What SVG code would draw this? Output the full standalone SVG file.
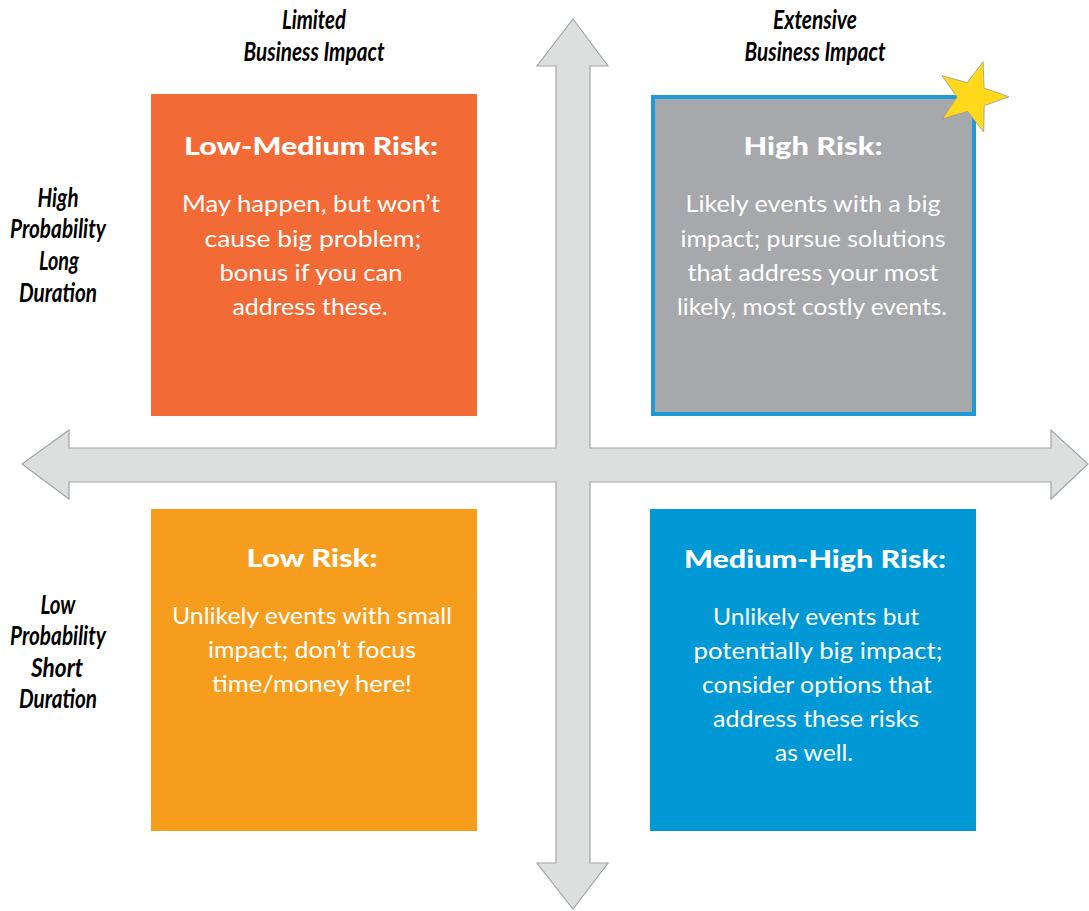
<svg xmlns="http://www.w3.org/2000/svg" width="1089" height="911" viewBox="0 0 1089 911">
<style>
.ax{font-family:Lato,"Liberation Sans",sans-serif;font-style:italic;font-weight:700;font-size:27px;fill:#000;text-anchor:middle}
.ttl{font-family:Lato,"Liberation Sans",sans-serif;font-weight:900;font-size:25px;fill:#fff;text-anchor:middle}
.bd{font-family:Lato,"Liberation Sans",sans-serif;font-size:23px;fill:#fff;text-anchor:middle}
</style>
<rect width="1089" height="911" fill="#fff"/>
<g id="connectors">
<polygon id="axes" points="573,19 608,66 590,66 590,448 1051,448 1051,430 1088,464 1051,499 1051,482 590,482 590,863 608,863 573,909 537,863 556,863 556,482 69,482 69,499 22,464 69,430 69,448 556,448 556,66 537,66" fill="#DDDFDE" stroke="#A3A5A5" stroke-width="1.2" stroke-linejoin="miter"/>
</g>
<g id="label-limited">
<text class="ax" x="314" y="29" textLength="64" lengthAdjust="spacingAndGlyphs">Limited</text>
<text class="ax" x="314" y="61" textLength="141" lengthAdjust="spacingAndGlyphs">Business Impact</text>
</g>
<g id="label-extensive">
<text class="ax" x="815" y="29" textLength="84" lengthAdjust="spacingAndGlyphs">Extensive</text>
<text class="ax" x="815" y="61" textLength="141" lengthAdjust="spacingAndGlyphs">Business Impact</text>
</g>
<g id="label-high">
<text class="ax" x="58" y="207" textLength="41" lengthAdjust="spacingAndGlyphs">High</text>
<text class="ax" x="58" y="238" textLength="96" lengthAdjust="spacingAndGlyphs">Probability</text>
<text class="ax" x="59" y="270" textLength="40" lengthAdjust="spacingAndGlyphs">Long</text>
<text class="ax" x="58" y="302" textLength="78" lengthAdjust="spacingAndGlyphs">Duration</text>
</g>
<g id="label-low">
<text class="ax" x="58" y="614" textLength="35" lengthAdjust="spacingAndGlyphs">Low</text>
<text class="ax" x="58" y="645" textLength="96" lengthAdjust="spacingAndGlyphs">Probability</text>
<text class="ax" x="57" y="677" textLength="52" lengthAdjust="spacingAndGlyphs">Short</text>
<text class="ax" x="58" y="708" textLength="78" lengthAdjust="spacingAndGlyphs">Duration</text>
</g>
<g id="low-medium">
<rect x="151" y="94" width="326" height="322" fill="#F26B36"/>
<text class="ttl" x="311" y="155" textLength="254" lengthAdjust="spacingAndGlyphs">Low-Medium Risk:</text>
<text class="bd" x="311" y="212" textLength="258" lengthAdjust="spacingAndGlyphs">May happen, but won’t</text>
<text class="bd" x="313" y="247" textLength="217" lengthAdjust="spacingAndGlyphs">cause big problem;</text>
<text class="bd" x="311" y="281" textLength="183" lengthAdjust="spacingAndGlyphs">bonus if you can</text>
<text class="bd" x="310" y="315" textLength="155" lengthAdjust="spacingAndGlyphs">address these.</text>
</g>
<g id="high">
<rect x="653" y="97" width="321" height="317" fill="#A6A8AB" stroke="#1E9AD6" stroke-width="4"/>
<text class="ttl" x="813" y="155" textLength="139" lengthAdjust="spacingAndGlyphs">High Risk:</text>
<text class="bd" x="813" y="212" textLength="255" lengthAdjust="spacingAndGlyphs">Likely events with a big</text>
<text class="bd" x="813" y="247" textLength="265" lengthAdjust="spacingAndGlyphs">impact; pursue solutions</text>
<text class="bd" x="813" y="281" textLength="251" lengthAdjust="spacingAndGlyphs">that address your most</text>
<text class="bd" x="812" y="315" textLength="270" lengthAdjust="spacingAndGlyphs">likely, most costly events.</text>
<polygon id="star" points="983.1,61.7 984.1,88.1 1009,96.7 984.2,105.7 983.7,132.1 967.5,111.3 942.3,119 957,97.1 941.9,75.5 967.2,82.8" fill="#FFD91A" stroke="#9A9A8A" stroke-width="0.8"/>
</g>
<g id="low">
<rect x="151" y="509" width="326" height="322" fill="#F79D1E"/>
<text class="ttl" x="312" y="567" textLength="131" lengthAdjust="spacingAndGlyphs">Low Risk:</text>
<text class="bd" x="312" y="624" textLength="280" lengthAdjust="spacingAndGlyphs">Unlikely events with small</text>
<text class="bd" x="312" y="658" textLength="208" lengthAdjust="spacingAndGlyphs">impact; don’t focus</text>
<text class="bd" x="312" y="692" textLength="200" lengthAdjust="spacingAndGlyphs">time/money here!</text>
</g>
<g id="medium-high">
<rect x="650" y="509" width="326" height="322" fill="#0099D6"/>
<text class="ttl" x="815" y="568" textLength="262" lengthAdjust="spacingAndGlyphs">Medium-High Risk:</text>
<text class="bd" x="816" y="625" textLength="206" lengthAdjust="spacingAndGlyphs">Unlikely events but</text>
<text class="bd" x="818" y="659" textLength="249" lengthAdjust="spacingAndGlyphs">potentially big impact;</text>
<text class="bd" x="817" y="693" textLength="230" lengthAdjust="spacingAndGlyphs">consider options that</text>
<text class="bd" x="816" y="727" textLength="206" lengthAdjust="spacingAndGlyphs">address these risks</text>
<text class="bd" x="814" y="761" textLength="78" lengthAdjust="spacingAndGlyphs">as well.</text>
</g>
</svg>
